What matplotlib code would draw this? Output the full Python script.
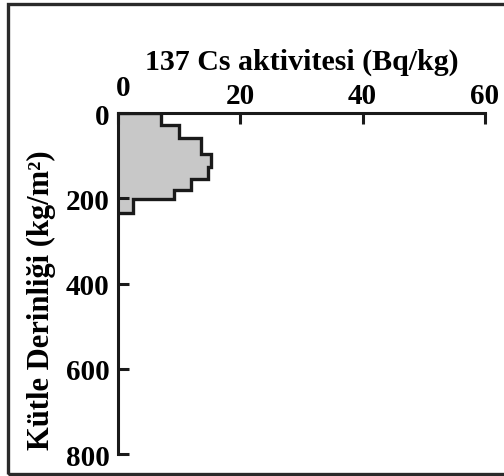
import matplotlib
matplotlib.use("Agg")
import matplotlib.pyplot as plt
from matplotlib.patches import Rectangle
from matplotlib.transforms import ScaledTranslation

# depth interval edges (kg/m2) and 137Cs activity (Bq/kg) per interval
depth_edges = [0, 28, 59, 96, 127, 155, 180, 202, 235]
activity = [7.1, 10.0, 13.6, 15.3, 14.8, 11.9, 9.1, 2.4]

x_ticks = [0, 20, 40, 60]
y_ticks = [0, 200, 400, 600, 800]

plt.rcParams["font.family"] = ["Liberation Serif", "DejaVu Serif"]
plt.rcParams["font.weight"] = "bold"

fig = plt.figure(figsize=(5.04, 4.77), dpi=100)

# outer frame around the whole figure
fig.patches.append(Rectangle((0.016, 0.004), 1.2, 0.986, transform=fig.transFigure,
                             fill=False, edgecolor="#2a2a2a", linewidth=2.4))

ax = fig.add_axes([0.234, 0.046, 0.728, 0.715])
ax.stairs(activity, depth_edges, orientation="horizontal", baseline=0, fill=True,
          facecolor="#c8c8c8", edgecolor="none")
ax.stairs(activity, depth_edges, orientation="horizontal", baseline=0, fill=False,
          color="#1a1a1a", linewidth=2.4)

ax.set_xlim(0, 60)
ax.set_ylim(800, 0)
ax.set_xticks(x_ticks)
ax.set_yticks(y_ticks)

ax.xaxis.tick_top()
ax.xaxis.set_label_position("top")
for s in ["right", "bottom"]:
    ax.spines[s].set_visible(False)
for s in ["top", "left"]:
    ax.spines[s].set_linewidth(2.2)
    ax.spines[s].set_color("#1a1a1a")

ax.tick_params(axis="both", direction="in", length=8, width=2.2, color="#1a1a1a",
               labelsize=21)
ax.tick_params(axis="x", pad=3)
ax.tick_params(axis="y", pad=6)
for lbl in ax.get_xticklabels() + ax.get_yticklabels():
    lbl.set_fontweight("bold")

# the "0" on the top axis sits a bit higher and to the right in the original
fig.canvas.draw()
first = ax.xaxis.get_major_ticks()[0].label2
first.set_transform(first.get_transform() + ScaledTranslation(5 / 100, 8 / 100, fig.dpi_scale_trans))

ax.set_xlabel("137 Cs aktivitesi (Bq/kg)", fontsize=21.5, fontweight="bold", labelpad=4)
ax.set_ylabel("Kütle Derinliği (kg/m²)", fontsize=22, fontweight="bold")
ax.yaxis.set_label_coords(-0.168, 0.455)

fig.savefig("out.png", dpi=100)
